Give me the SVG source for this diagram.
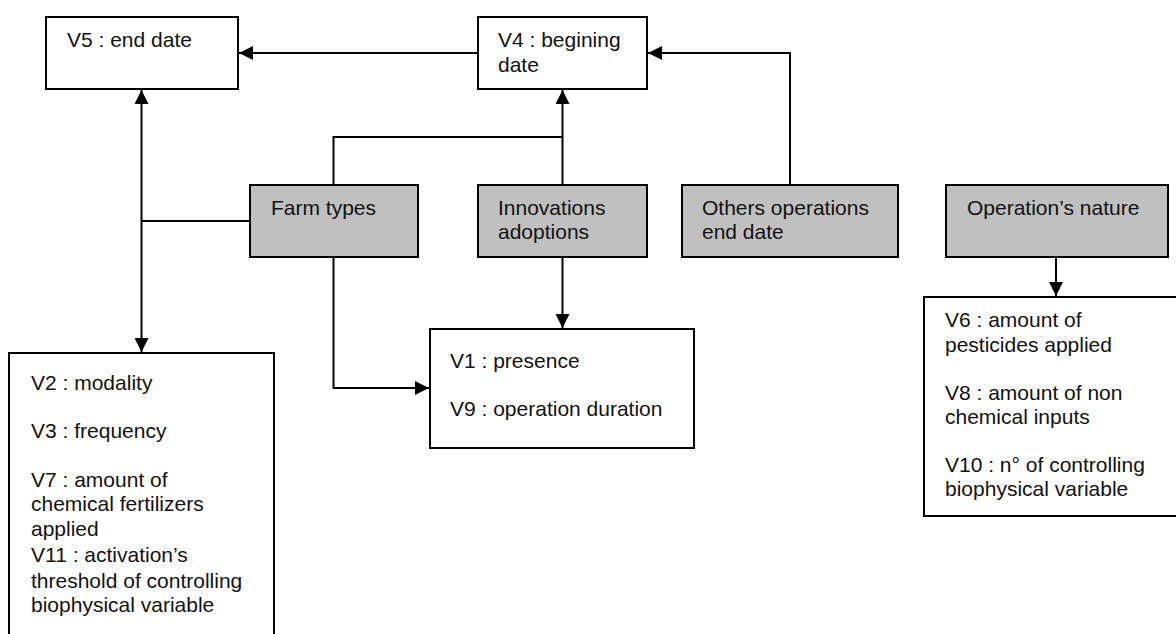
<svg xmlns="http://www.w3.org/2000/svg" width="1176" height="634" viewBox="0 0 1176 634">
<defs>
<style>
.box{fill:#ffffff;stroke:#000000;stroke-width:2}
.grey{fill:#c0c0c0;stroke:#000000;stroke-width:2}
.t{font-family:"Liberation Sans",Arial,sans-serif;font-size:21px;fill:#111111}
.c{fill:none;stroke:#000000;stroke-width:2}
</style>
<marker id="ah" viewBox="0 0 14 14" refX="14" refY="7" markerWidth="14" markerHeight="14" markerUnits="userSpaceOnUse" orient="auto">
<path d="M0,0 L14,7 L0,14 Z" fill="#000000"/>
</marker>
</defs>
<rect width="1176" height="634" fill="#ffffff"/>
<g id="connectors">
<path class="c" d="M478,53 H239" marker-end="url(#ah)"/>
<path class="c" d="M790,185 V53 H648" marker-end="url(#ah)"/>
<path class="c" d="M562.5,185 V90" marker-end="url(#ah)"/>
<path class="c" d="M333.5,185 V137 H562.5"/>
<path class="c" d="M250,221 H141.5"/>
<path class="c" d="M141.5,221 V90" marker-end="url(#ah)"/>
<path class="c" d="M141.5,221 V352" marker-end="url(#ah)"/>
<path class="c" d="M333.5,257 V388 H429" marker-end="url(#ah)"/>
<path class="c" d="M562.5,257 V328" marker-end="url(#ah)"/>
<path class="c" d="M1056,257 V296" marker-end="url(#ah)"/>
</g>
<g id="v5">
<rect class="box" x="46" y="17" width="192" height="72"/>
<text class="t" x="67" y="47">V5 : end date</text>
</g>
<g id="v4">
<rect class="box" x="478" y="17" width="169" height="72"/>
<text class="t" x="498" y="47">V4 : begining</text>
<text class="t" x="498" y="72">date</text>
</g>
<g id="farm-types">
<rect class="grey" x="250" y="185" width="168" height="72"/>
<text class="t" x="271" y="215">Farm types</text>
</g>
<g id="innovations">
<rect class="grey" x="478" y="185" width="169" height="72"/>
<text class="t" x="498" y="215">Innovations</text>
<text class="t" x="498" y="239">adoptions</text>
</g>
<g id="others">
<rect class="grey" x="682" y="185" width="216" height="72"/>
<text class="t" x="702" y="215">Others operations</text>
<text class="t" x="702" y="239">end date</text>
</g>
<g id="operation-nature">
<rect class="grey" x="946" y="185" width="222" height="72"/>
<text class="t" x="967" y="215">Operation’s nature</text>
</g>
<g id="v1-v9">
<rect class="box" x="430" y="329" width="264" height="119"/>
<text class="t" x="450" y="368">V1 : presence</text>
<text class="t" x="450" y="416">V9 : operation duration</text>
</g>
<g id="v2-box">
<rect class="box" x="9" y="353" width="265" height="300"/>
<text class="t" x="31" y="390">V2 : modality</text>
<text class="t" x="31" y="438">V3 : frequency</text>
<text class="t" x="31" y="487">V7 : amount of</text>
<text class="t" x="31" y="511">chemical fertilizers</text>
<text class="t" x="31" y="536">applied</text>
<text class="t" x="31" y="562">V11 : activation’s</text>
<text class="t" x="31" y="588">threshold of controlling</text>
<text class="t" x="31" y="612">biophysical variable</text>
</g>
<g id="v6-box">
<rect class="box" x="924" y="297" width="260" height="219"/>
<text class="t" x="945" y="327">V6 : amount of</text>
<text class="t" x="945" y="352">pesticides applied</text>
<text class="t" x="945" y="400">V8 : amount of non</text>
<text class="t" x="945" y="424">chemical inputs</text>
<text class="t" x="945" y="472">V10 : n° of controlling</text>
<text class="t" x="945" y="496">biophysical variable</text>
</g>
</svg>
